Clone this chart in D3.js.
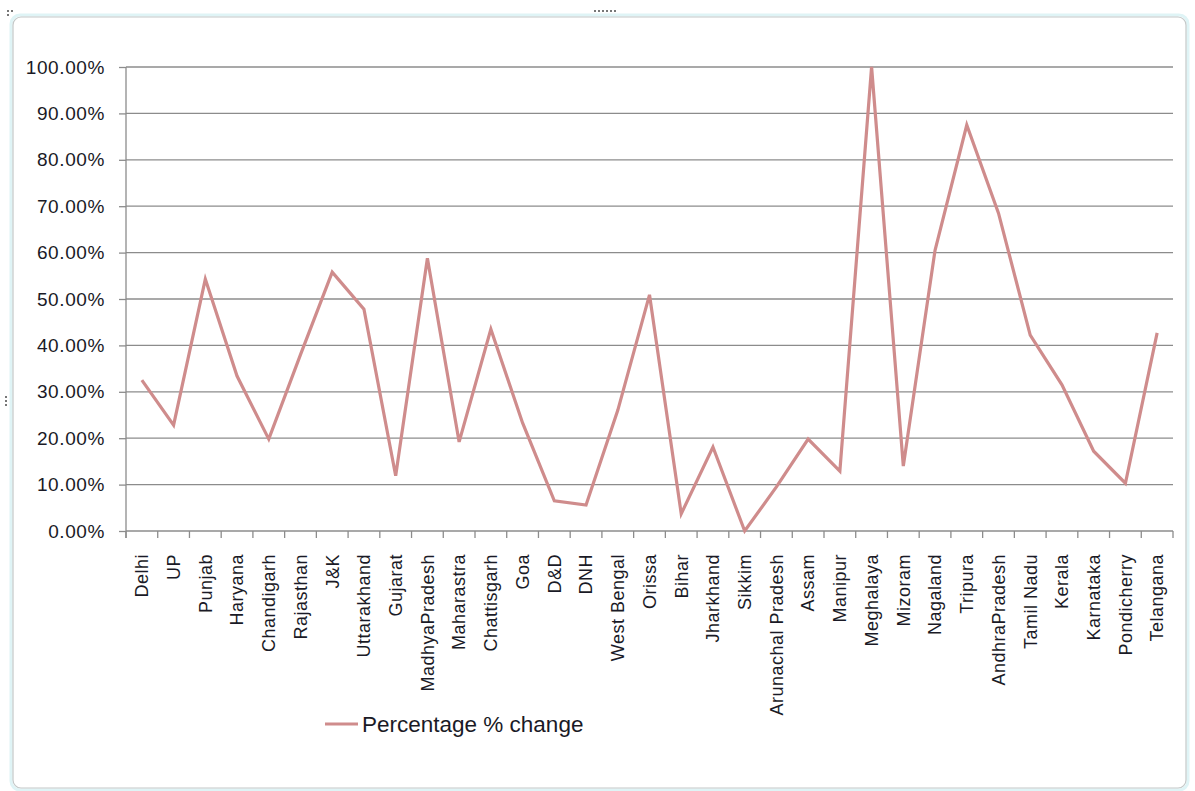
<!DOCTYPE html>
<html>
<head>
<meta charset="utf-8">
<script src="https://cdn.jsdelivr.net/npm/d3@7/dist/d3.min.js"></script>
<style>
  html, body { margin: 0; padding: 0; background: #ffffff; }
  svg { display: block; }
  text { font-family: "Liberation Sans", Arial, sans-serif; fill: #1a1a26; }
</style>
</head>
<body>
<script>
const categories = ["Delhi","UP","Punjab","Haryana","Chandigarh","Rajasthan","J&K","Uttarakhand","Gujarat","MadhyaPradesh","Maharastra","Chattisgarh","Goa","D&D","DNH","West Bengal","Orissa","Bihar","Jharkhand","Sikkim","Arunachal Pradesh","Assam","Manipur","Meghalaya","Mizoram","Nagaland","Tripura","AndhraPradesh","Tamil Nadu","Kerala","Karnataka","Pondicherry","Telangana"];
const values = [0.325,0.228,0.543,0.334,0.198,0.38,0.558,0.478,0.119,0.588,0.192,0.435,0.233,0.065,0.056,0.26,0.509,0.037,0.181,0.0,0.095,0.198,0.129,1.0,0.14,0.605,0.875,0.685,0.422,0.315,0.172,0.103,0.427];
const yTicks = [0,0.1,0.2,0.3,0.4,0.5,0.6,0.7,0.8,0.9,1.0];
const seriesName = "Percentage % change";

const W = 1195, H = 791;
const lineColor = "#cf8c8c";
const gridColor = "#8c8c8c";

const svg = d3.select("body").append("svg").attr("width", W).attr("height", H);

// chart frame
svg.append("rect").attr("x", 11).attr("y", 15).attr("width", 1177).attr("height", 775)
  .attr("rx", 9).attr("fill", "none").attr("stroke", "#dff4f6").attr("stroke-width", 3);
svg.append("rect").attr("x", 13).attr("y", 17).attr("width", 1173).attr("height", 771)
  .attr("rx", 8).attr("fill", "#ffffff").attr("stroke", "#c4c8c8").attr("stroke-width", 1.2);
// selection handles
[[7,10],[11,10],[7,14]].forEach(p => svg.append("rect").attr("x", p[0]).attr("y", p[1]).attr("width", 2).attr("height", 2).attr("fill", "#777"));
[594,598,602,606,610,614].forEach(x => svg.append("rect").attr("x", x).attr("y", 10).attr("width", 2).attr("height", 2).attr("fill", "#777"));
[396,400,404].forEach(y => svg.append("rect").attr("x", 5).attr("y", y).attr("width", 2).attr("height", 2).attr("fill", "#777"));

const x = d3.scaleBand().domain(categories).range([126, 1173]).padding(0);
const y = d3.scaleLinear().domain([0, 1]).range([531, 67]);

// gridlines
svg.append("g").selectAll("line").data(yTicks).join("line")
  .attr("x1", 126).attr("x2", 1173)
  .attr("y1", d => y(d)).attr("y2", d => y(d))
  .attr("stroke", gridColor).attr("stroke-width", 1.3);

// y axis
const yAxis = svg.append("g").attr("transform", "translate(126,0)")
  .call(d3.axisLeft(y).tickValues(yTicks).tickSize(7).tickPadding(14).tickFormat(d3.format(".2%")));
yAxis.select(".domain").remove();
yAxis.selectAll(".tick line").attr("stroke", gridColor).attr("stroke-width", 1.3);
yAxis.selectAll(".tick text").attr("font-size", 19).attr("letter-spacing", 0.6)
  .attr("font-family", "Liberation Sans, Arial, sans-serif").attr("fill", "#1a1a26");
svg.append("line").attr("x1", 126).attr("x2", 126).attr("y1", y(1)).attr("y2", 538)
  .attr("stroke", gridColor).attr("stroke-width", 1.3);

// x axis ticks at band boundaries
const bounds = categories.map(c => x(c)).concat([x.range()[1]]);
svg.append("g").selectAll("line").data(bounds).join("line")
  .attr("x1", d => d).attr("x2", d => d).attr("y1", 531).attr("y2", 538)
  .attr("stroke", gridColor).attr("stroke-width", 1.3);

// x labels
svg.append("g").selectAll("text").data(categories).join("text")
  .attr("transform", d => `translate(${x(d) + x.bandwidth() / 2},554) rotate(-90)`)
  .attr("text-anchor", "end").attr("dy", "0.35em")
  .attr("font-size", 18).attr("letter-spacing", 0.5)
  .text(d => d);

// line
const line = d3.line().x((d, i) => x(categories[i]) + x.bandwidth() / 2).y(d => y(d));
svg.append("path").datum(values).attr("d", line)
  .attr("fill", "none").attr("stroke", lineColor).attr("stroke-width", 3.2)
  .attr("stroke-linejoin", "miter");

// legend
svg.append("line").attr("x1", 325).attr("x2", 358).attr("y1", 724).attr("y2", 724)
  .attr("stroke", lineColor).attr("stroke-width", 3.2);
svg.append("text").attr("x", 362).attr("y", 724).attr("dy", "0.35em")
  .attr("font-size", 22.5).text(seriesName);
</script>
</body>
</html>
